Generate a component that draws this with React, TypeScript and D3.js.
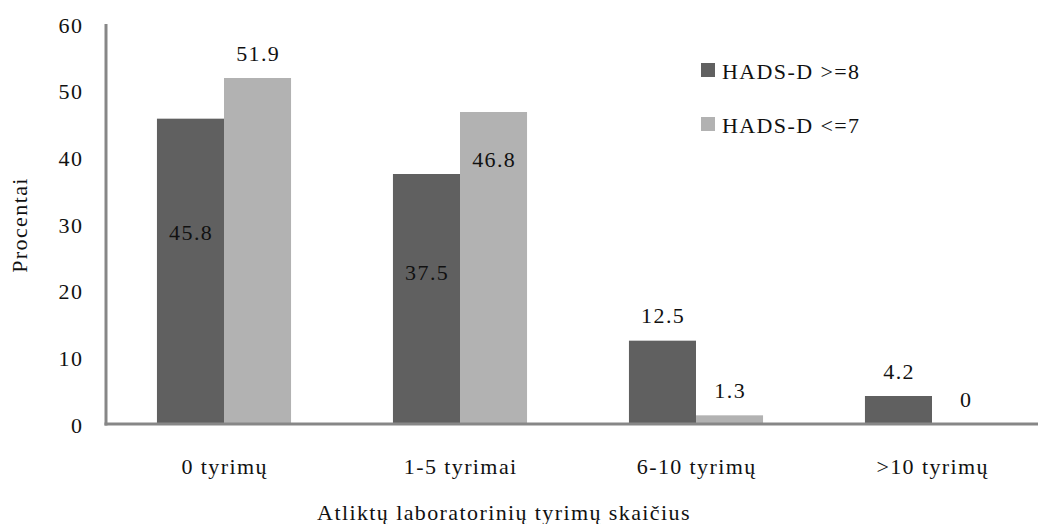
import React from "react";
import * as d3 from "d3";

const categories = ["0 tyrimų", "1-5 tyrimai", "6-10 tyrimų", ">10 tyrimų"];
const seriesNames = ["HADS-D >=8", "HADS-D <=7"];
const highValues = [45.8, 37.5, 12.5, 4.2];
const lowValues = [51.9, 46.8, 1.3, 0];
const yTicks = [0, 10, 20, 30, 40, 50, 60];

// label offsets (px from bar top; negative = above)
const highLabelDy = [114, 98, -25, -25];
const lowLabelDy = [-25, 47, -25, -25];

const W = 1038;
const H = 524;
const colors = ["#606060", "#b2b2b2"];
const font = "Liberation Serif, Times New Roman, serif";
const ts: React.CSSProperties = { fontFamily: font, fontSize: "22px", letterSpacing: "1.4px" };

export default function App() {
  const x = d3.scaleBand<string>().domain(categories).range([106, 1050]).padding(0);
  const inner = d3
    .scaleBand<number>()
    .domain([0, 1])
    .range([0, x.bandwidth()])
    .paddingInner(0)
    .paddingOuter(0.76);
  const y = d3.scaleLinear().domain([0, 60]).range([424, 24]);

  const series = [
    { name: seriesNames[0], values: highValues, dy: highLabelDy },
    { name: seriesNames[1], values: lowValues, dy: lowLabelDy },
  ];

  return (
    <svg
      width={W}
      height={H}
      style={{ position: "absolute", left: 0, top: 0, background: "#fff" }}
    >
      {series.map((s, si) =>
        categories.map((c, ci) => {
          const v = s.values[ci];
          const bx = (x(c) as number) + (inner(si) as number);
          const by = y(v);
          return (
            <g key={`${si}-${ci}`}>
              {v > 0 && (
                <rect
                  x={bx}
                  y={by}
                  width={inner.bandwidth()}
                  height={y(0) - by}
                  fill={colors[si]}
                />
              )}
              <text
                x={bx + inner.bandwidth() / 2 + 0.7}
                y={by + s.dy[ci]}
                textAnchor="middle"
                dominantBaseline="central"
                style={ts}
                fill="#111"
              >
                {String(v)}
              </text>
            </g>
          );
        })
      )}

      {/* axes */}
      <line x1={106} x2={106} y1={y(60)} y2={y(0) + 1.5} stroke="#878787" strokeWidth={3} />
      <line x1={104.5} x2={W} y1={y(0)} y2={y(0)} stroke="#878787" strokeWidth={3} />

      {yTicks.map((t) => (
        <text
          key={t}
          x={83.4}
          y={y(t) + 1}
          textAnchor="end"
          dominantBaseline="central"
          style={ts}
          fill="#111"
        >
          {t}
        </text>
      ))}

      {categories.map((c) => (
        <text
          key={c}
          x={(x(c) as number) + x.bandwidth() / 2 + 0.7}
          y={466}
          textAnchor="middle"
          dominantBaseline="central"
          style={ts}
          fill="#111"
        >
          {c}
        </text>
      ))}

      <text
        x={504}
        y={512}
        textAnchor="middle"
        dominantBaseline="central"
        style={ts}
        fill="#111"
      >
        Atliktų laboratorinių tyrimų skaičius
      </text>

      <text
        transform={`translate(19, 225) rotate(-90)`}
        textAnchor="middle"
        dominantBaseline="central"
        style={ts}
        fill="#111"
      >
        Procentai
      </text>

      {seriesNames.map((n, i) => (
        <g key={n} transform={`translate(701, ${63 + i * 54})`}>
          <rect x={0} y={0} width={14} height={14} fill={colors[i]} />
          <text x={21} y={8} dominantBaseline="central" style={ts} fill="#111">
            {n}
          </text>
        </g>
      ))}
    </svg>
  );
}
